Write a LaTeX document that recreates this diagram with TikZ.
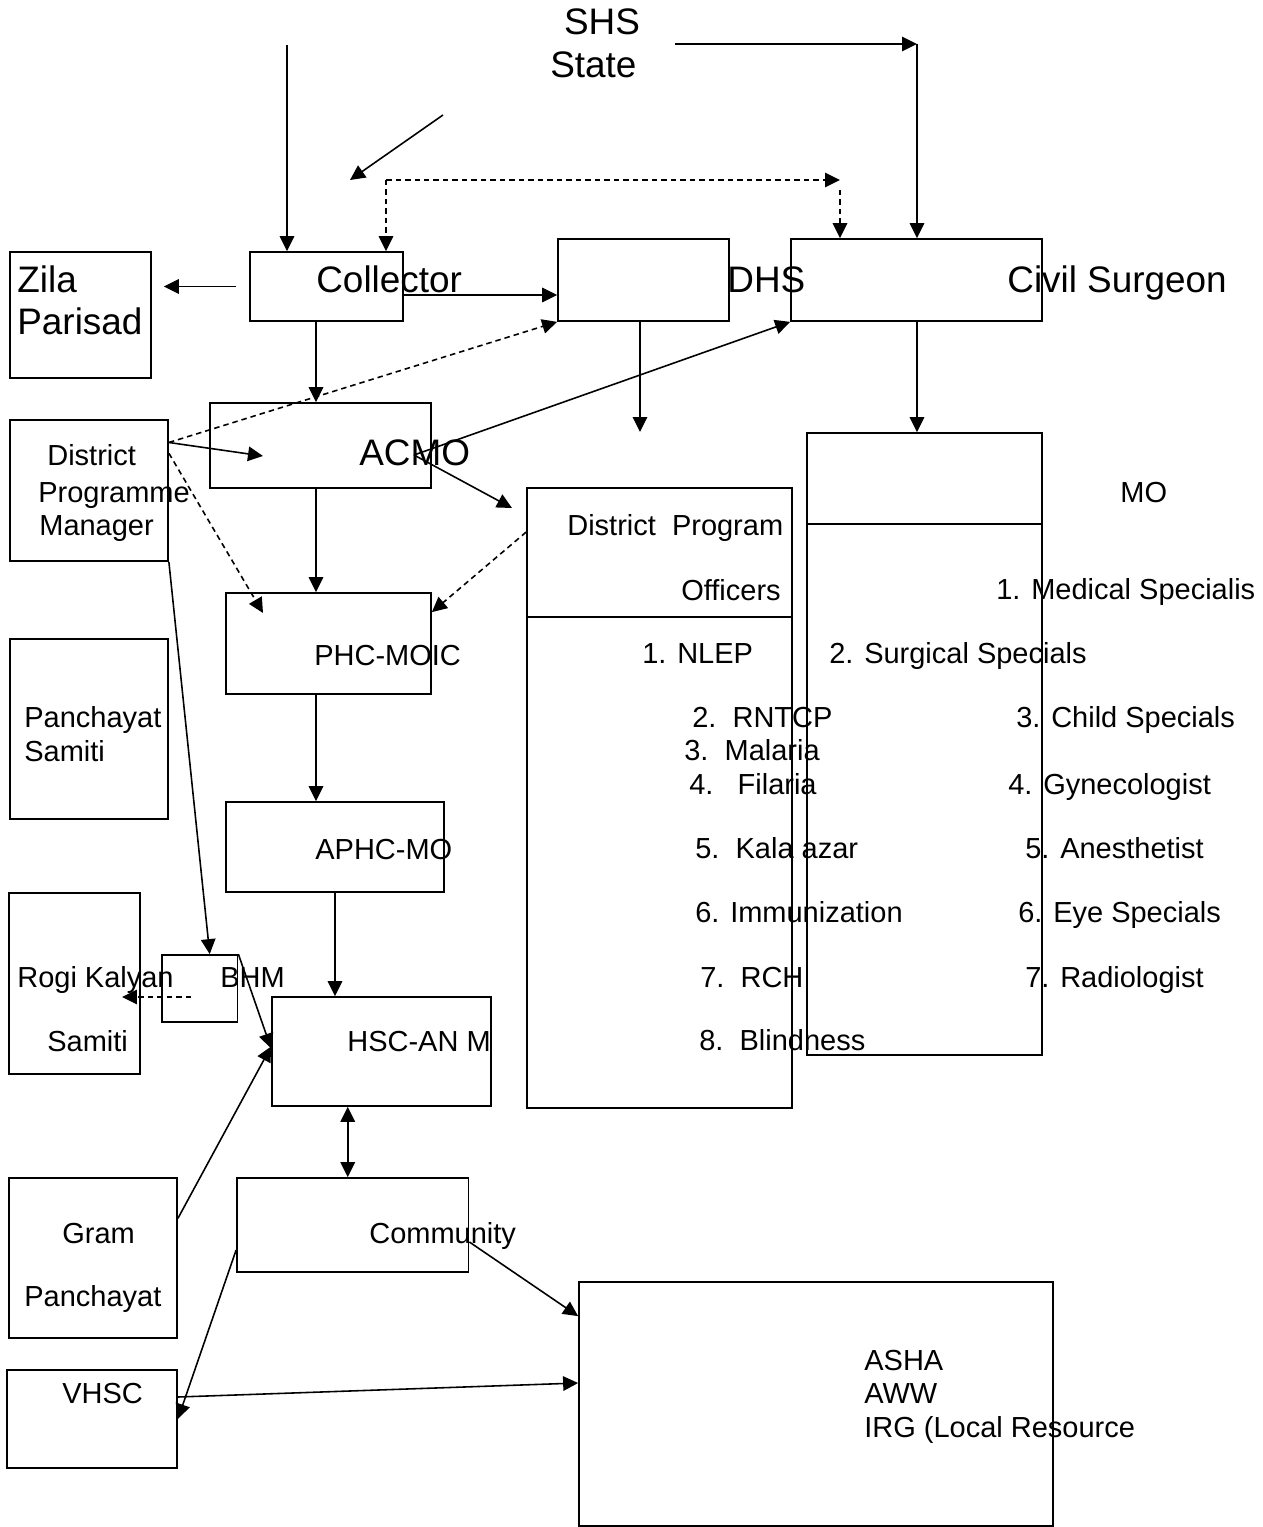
\documentclass[tikz,border=0pt]{standalone}
\usepackage{fontspec}
\setmainfont{Liberation Sans}
\usetikzlibrary{arrows.meta, positioning, fit}

\tikzstyle{box} = [rectangle, draw=black, line width=1pt, inner sep=0pt]
\tikzstyle{arrow} = [line width=0.9pt, -{Triangle[length=3mm, width=2.9mm]}]
\tikzstyle{dasharrow} = [arrow, dash pattern=on 1.1mm off 0.8mm]
\tikzstyle{bothways} = [line width=0.9pt, {Triangle[length=3mm, width=2.9mm]}-{Triangle[length=3mm, width=2.9mm]}]
\tikzstyle{bigtext} = [font=\fontsize{21}{25}\selectfont, inner sep=0pt, anchor=base west]
\tikzstyle{smalltext} = [font=\fontsize{16.5}{20}\selectfont, inner sep=0pt, anchor=base west]

\begin{document}
\begin{tikzpicture}[x=0.02cm, y=-0.02cm]
\useasboundingbox (0,0) rectangle (1263,1527);

% State level
\node (shs) [bigtext, anchor=base] at (602,35) {SHS};
\node (state) [bigtext] at (550,78) {State};

% District level boxes
\node (zila) [box, fit={(10,252) (151,378)}] {};
\node (collector) [box, fit={(250,252) (403,321)}] {};
\node (dhs) [box, fit={(558,239) (729,321)}] {};
\node (civil) [box, fit={(791,239) (1042,321)}] {};
\node (acmo) [box, fit={(210,403) (431,488)}] {};
\node (dpm) [box, fit={(10,420) (168,561)}] {};

\node (zila-t1) [bigtext] at (17,293) {Zila};
\node (zila-t2) [bigtext] at (17,335) {Parisad};
\node (collector-t) [bigtext] at (316,293) {Collector};
\node (dhs-t) [bigtext] at (727,293) {DHS};
\node (civil-t) [bigtext] at (1007,293) {Civil Surgeon};
\node (acmo-t) [bigtext] at (359,465) {ACMO};
\node (dpm-t1) [smalltext] at (47,465) {District};
\node (dpm-t2) [smalltext] at (38,502) {Programme};
\node (dpm-t3) [smalltext] at (39,535) {Manager};

% Block level
\node (phc) [box, fit={(226,593) (431,694)}] {};
\node (aphc) [box, fit={(226,802) (444,892)}] {};
\node (psamiti) [box, fit={(10,639) (168,819)}] {};
\node (rogi) [box, fit={(9,893) (140,1074)}] {};
\node (bhm) [box, fit={(162,955) (237.5,1022)}] {};
\node (hsc) [box, fit={(272,997) (491,1106)}] {};

\node (phc-t) [smalltext] at (314,665) {PHC-MOIC};
\node (aphc-t) [smalltext] at (315,859) {APHC-MO};
\node (psamiti-t1) [smalltext] at (24,727) {Panchayat};
\node (psamiti-t2) [smalltext] at (24,761) {Samiti};
\node (rogi-t1) [smalltext] at (17,987) {Rogi Kalyan};
\node (rogi-t2) [smalltext] at (47,1051) {Samiti};
\node (bhm-t) [smalltext] at (220,987) {BHM};
\node (hsc-t) [smalltext] at (347,1051) {HSC-AN M};

% Village level
\node (community) [box, fit={(237,1178) (468.5,1272)}] {};
\node (gram) [box, fit={(9,1178) (177,1338)}] {};
\node (vhsc) [box, fit={(7,1370) (177,1468)}] {};
\node (asha) [box, fit={(579,1282) (1053,1526)}] {};

\node (community-t) [smalltext] at (369,1243) {Community};
\node (gram-t1) [smalltext] at (62,1243) {Gram};
\node (gram-t2) [smalltext] at (24,1306) {Panchayat};
\node (vhsc-t) [smalltext] at (62,1403) {VHSC};
\node (asha-t1) [smalltext] at (864,1370) {ASHA};
\node (asha-t2) [smalltext] at (864,1403) {AWW};
\node (asha-t3) [smalltext] at (864,1437) {IRG (Local Resource};

% Programme officers
\node (dpo) [box, fit={(527,488) (792,1108)}] {};
\coordinate (dpo-div) at (0,617);
\draw [line width=1pt] (dpo.west |- dpo-div) -- (dpo.east |- dpo-div);
\node (dpo-t1) [smalltext] at (567,535) {District\ \ Program};
\node (dpo-t2) [smalltext, anchor=base east] at (781,600) {Officers};
\node (nlep) [smalltext] at (642,663) {1. NLEP};
\node (rntcp) [smalltext] at (692,727) {2.\ \ RNTCP};
\node (malaria) [smalltext] at (684,760) {3.\ \ Malaria};
\node (filaria) [smalltext] at (689,794) {4.\ \ \ Filaria};
\node (kala) [smalltext] at (695,858) {5.\ \ Kala azar};
\node (immun) [smalltext] at (695,922) {6. Immunization};
\node (rch) [smalltext] at (700,987) {7.\ \ RCH};
\node (blind) [smalltext] at (699,1050) {8.\ \ Blindness};

% Medical officers
\node (mo) [box, fit={(807,433) (1042,1055)}] {};
\coordinate (mo-div) at (0,524);
\draw [line width=1pt] (mo.west |- mo-div) -- (mo.east |- mo-div);
\node (mo-t) [smalltext] at (1120,502) {MO};
\node (medical) [smalltext] at (996,599) {1. Medical Specialis};
\node (surgical) [smalltext] at (829,663) {2. Surgical Specials};
\node (child) [smalltext] at (1016,727) {3. Child Specials};
\node (gyne) [smalltext] at (1008,794) {4. Gynecologist};
\node (anest) [smalltext] at (1025,858) {5. Anesthetist};
\node (eye) [smalltext] at (1018,922) {6. Eye Specials};
\node (radio) [smalltext] at (1025,987) {7. Radiologist};

% Free ends
\coordinate (shs-down) at (287,45);
\coordinate (slant-a) at (443,115);
\coordinate (slant-b) at (350,180);
\coordinate (shs-right) at (675,44);
\coordinate (cs-corner) at (917,44);
\coordinate (dash-l) at (386,180);
\coordinate (dash-r) at (840,180);
\coordinate (spine) at (316,0);
\coordinate (dhs-end) at (640,432);
\coordinate (acmo-in) at (263,456);
\coordinate (acmo-hub) at (414,455);
\coordinate (dpo-near) at (512,508);
\coordinate (phc-in) at (263,613);
\coordinate (bhm-in) at (191,997);
\coordinate (rogi-in) at (122,997);

% Arrows
\draw [arrow] (shs-down) -- (shs-down |- collector.north);
\draw [arrow] (slant-a) -- (slant-b);
\draw [arrow] (shs-right) -- (cs-corner);
\draw [arrow] (cs-corner) -- (cs-corner |- civil.north);
\draw [dasharrow] (dash-l) -- (dash-r);
\draw [dasharrow] (dash-l) -- (dash-l |- collector.north);
\draw [dasharrow] ([yshift=-0.2cm]dash-r) -- (dash-r |- civil.north);
\draw [arrow] ([xshift=-2.6mm]collector.west) -- ([xshift=2.4mm]collector.west -| zila.east);
\draw [arrow] ([yshift=-0.17cm]collector.east) -- ([yshift=-0.17cm]collector.east -| dhs.west);
\draw [arrow] (collector.south -| spine) -- (acmo.north -| spine);
\draw [arrow] (dhs.south -| dhs-end) -- (dhs-end);
\draw [arrow] (cs-corner |- civil.south) -- (cs-corner |- mo.north);
\draw [arrow] (dpm.31) -- (acmo-in);
\draw [dasharrow] (dpm.31) -- (dhs.south west);
\draw [dasharrow] (dpm.25) -- (phc-in);
\draw [arrow] (acmo-hub) -- (civil.south west);
\draw [arrow] (acmo-hub) -- (dpo-near);
\draw [dasharrow] ([yshift=-0.9cm]dpo.north west) -- ([yshift=-0.4cm]phc.north east);
\draw [arrow] (acmo.south -| spine) -- (phc.north -| spine);
\draw [arrow] (phc.south -| spine) -- (aphc.north -| spine);
\draw [arrow] (dpm.south east) -- ([xshift=0.2cm]bhm.north);
\draw [arrow] (aphc.south) -- (aphc.south |- hsc.north);
\draw [arrow] (bhm.north east) -- ([yshift=0.06cm]hsc.west);
\draw [dasharrow] (bhm-in) -- (rogi-in);
\draw [arrow] (gram.25) -- ([yshift=0.1cm]hsc.west);
\draw [bothways] ([xshift=-0.1cm]community.north) -- ([xshift=-0.1cm]community.north |- hsc.south);
\draw [arrow] ([yshift=-0.5cm]community.west) -- (vhsc.east);
\draw [arrow] ([yshift=0.44cm]vhsc.east) -- ([yshift=0.42cm]asha.west);
\draw [arrow] ([yshift=-0.34cm]community.east) -- ([yshift=-0.7cm]asha.north west);

\end{tikzpicture}
\end{document}
